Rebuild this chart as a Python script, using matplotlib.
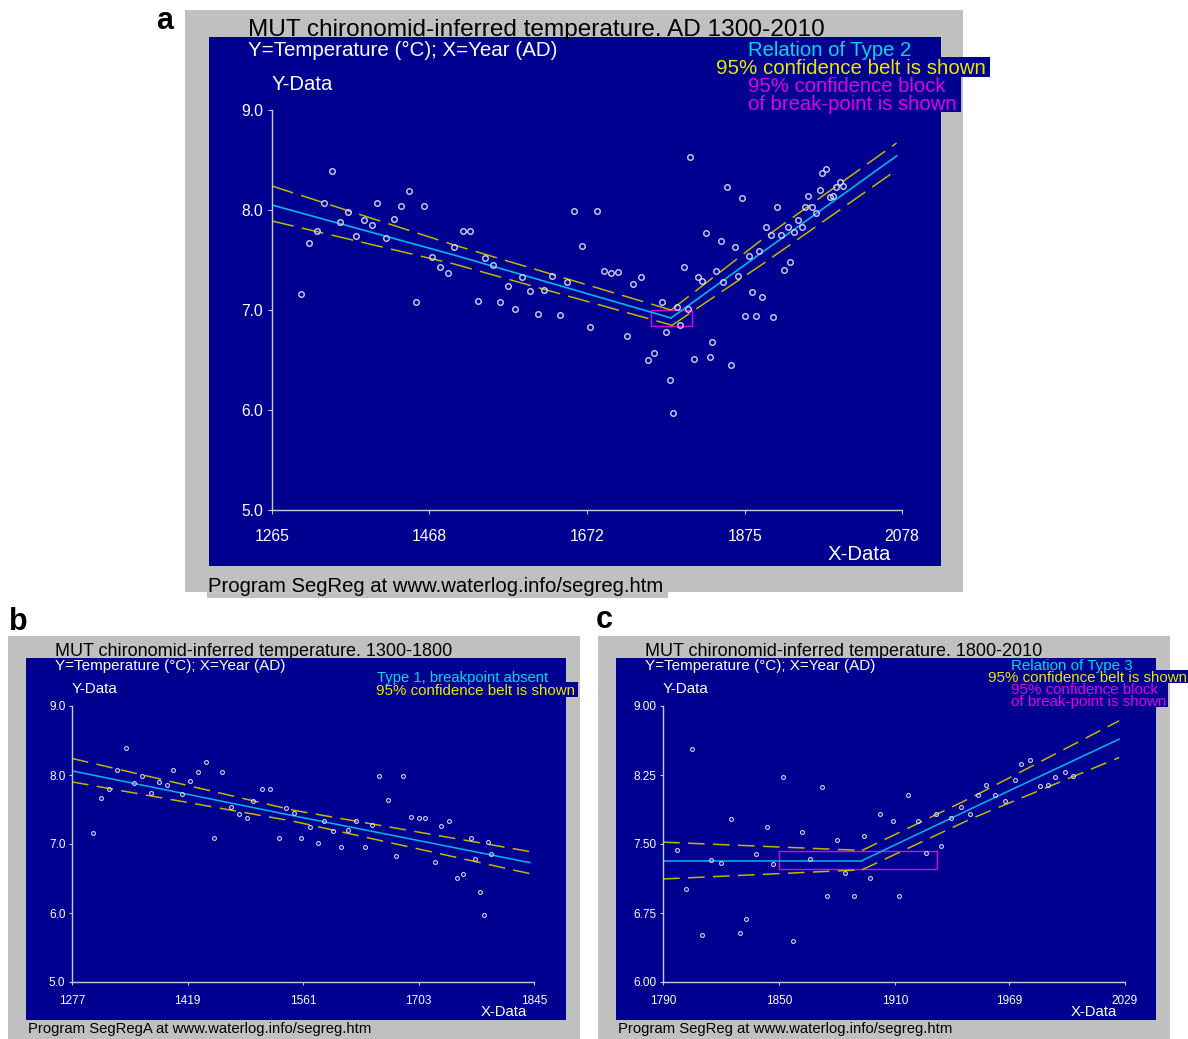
import matplotlib
matplotlib.use('Agg')
import matplotlib.pyplot as plt
from matplotlib.patches import Rectangle

plt.rcParams['font.family'] = ['Liberation Sans', 'DejaVu Sans']
plt.rcParams['lines.scale_dashes'] = False

W, H = 1188, 1039

# chironomid-inferred temperature samples (year AD, deg C)
years = [1343, 1332, 1363, 1353, 1323, 1313, 1303, 1374, 1384, 1394, 1401, 1412, 1422, 1432, 1442,
         1451, 1461, 1472, 1482, 1492, 1500, 1511, 1521,
         1531, 1540, 1550, 1559, 1569, 1579, 1587, 1598, 1608, 1616,
         1626, 1637, 1646, 1655, 1665, 1675, 1684, 1694, 1703, 1711,
         1731, 1741, 1723, 1750, 1758, 1768, 1773, 1778, 1783, 1788,
         1792, 1797, 1802, 1805, 1810, 1815, 1820, 1825, 1830, 1833,
         1838, 1844, 1847, 1852, 1857, 1862, 1866, 1872, 1875, 1880,
         1884, 1889, 1894, 1897, 1902, 1909, 1912, 1917, 1922, 1926,
         1931, 1934, 1939, 1944, 1949, 1953, 1957, 1962, 1967, 1972,
         1975, 1980, 1985, 1989, 1993, 1998, 2002]
temps = [8.39, 8.07, 7.98, 7.88, 7.79, 7.67, 7.16, 7.74, 7.90, 7.85, 8.07, 7.72, 7.91, 8.04, 8.19,
         7.08, 8.04, 7.53, 7.43, 7.37, 7.63, 7.79, 7.79,
         7.09, 7.52, 7.45, 7.08, 7.24, 7.01, 7.33, 7.19, 6.96, 7.20,
         7.34, 6.95, 7.28, 7.99, 7.64, 6.83, 7.99, 7.39, 7.37, 7.38,
         7.26, 7.33, 6.74, 6.50, 6.57, 7.08, 6.78, 6.30, 5.97, 7.03,
         6.85, 7.43, 7.01, 8.53, 6.51, 7.33, 7.29, 7.77, 6.53, 6.68,
         7.39, 7.69, 7.28, 8.23, 6.45, 7.63, 7.34, 8.12, 6.94, 7.54,
         7.18, 6.94, 7.59, 7.13, 7.83, 7.75, 6.93, 8.03, 7.75, 7.40,
         7.83, 7.48, 7.78, 7.90, 7.83, 8.03, 8.14, 8.03, 7.97, 8.20,
         8.37, 8.41, 8.13, 8.14, 8.23, 8.28, 8.24]

# panel a: type 2 (two sloping segments)
a_seg1_x = [1265, 1500, 1780]
a_seg1_fit = [8.05, 7.55, 6.92]
a_seg1_up = [8.24, 7.65, 7.00]
a_seg1_lo = [7.89, 7.46, 6.85]
a_seg2_x = [1780, 1900, 2071]
a_seg2_fit = [6.92, 7.59, 8.54]
a_seg2_up = [7.00, 7.72, 8.67]
a_seg2_lo = [6.84, 7.47, 8.40]
a_block = [1754, 1807, 6.84, 7.00]
a_xticks = [1265, 1468, 1672, 1875, 2078]
a_yticks = [5.0, 6.0, 7.0, 8.0, 9.0]

# panel b: type 1 (no breakpoint), 1300-1800
b_x = [1277, 1549, 1840]
b_fit = [8.06, 7.41, 6.73]
b_up = [8.24, 7.49, 6.89]
b_lo = [7.90, 7.33, 6.57]
b_xticks = [1277, 1419, 1561, 1703, 1845]
b_yticks = [5.0, 6.0, 7.0, 8.0, 9.0]

# panel c: type 3 (flat then rising), 1800-2010
c_seg1_x = [1790, 1893]
c_seg1_fit = [7.32, 7.32]
c_seg1_up = [7.52, 7.43]
c_seg1_lo = [7.12, 7.22]
c_seg2_x = [1893, 1950, 2026]
c_seg2_fit = [7.32, 7.89, 8.64]
c_seg2_up = [7.43, 8.01, 8.84]
c_seg2_lo = [7.22, 7.78, 8.44]
c_block = [1850, 1932, 7.23, 7.42]
c_xticks = [1790, 1850, 1910, 1969, 2029]
c_yticks = [6.00, 6.75, 7.50, 8.25, 9.00]

GREY = '#c0c0c0'
NAVY = '#000090'
CYAN_LINE = '#00b8f0'
CYAN_TXT = '#00d8e8'
YEL_TXT = '#e8e800'
YEL_BELT = '#c0b800'
MAG = '#e000e0'
AXC = '#c8c8d8'

fig = plt.figure(figsize=(W / 100, H / 100), dpi=100)
fig.patch.set_facecolor('white')


def rect(x0, y0, x1, y1, color, z=0):
    fig.add_artist(Rectangle((x0 / W, 1 - y1 / H), (x1 - x0) / W, (y1 - y0) / H,
                             transform=fig.transFigure, facecolor=color,
                             edgecolor='none', zorder=z))


def txt(x, y, s, size, color='white', **kw):
    # y is the visual centre in pixels; nudge for descender space
    fig.text(x / W, 1 - (y + 2) / H, s, fontsize=size, color=color,
             ha='left', va='center', zorder=5, **kw)


def make_axes(x0, y0, x1, y1, xlim, ylim, xticks, yticks, fmt, lsize, xpad, ypad, tl):
    ax = fig.add_axes([x0 / W, 1 - y1 / H, (x1 - x0) / W, (y1 - y0) / H])
    ax.set_facecolor('none')
    ax.set_zorder(3)
    ax.set_xlim(xlim)
    ax.set_ylim(ylim)
    for s in ['top', 'right']:
        ax.spines[s].set_visible(False)
    for s in ['left', 'bottom']:
        ax.spines[s].set_color(AXC)
        ax.spines[s].set_linewidth(1)
    ax.set_xticks(xticks)
    ax.set_xticklabels([str(t) for t in xticks])
    ax.set_yticks(yticks)
    ax.set_yticklabels([fmt % t for t in yticks])
    ax.tick_params(axis='x', colors=AXC, labelcolor='white', labelsize=lsize,
                   length=tl, pad=xpad, direction='out')
    ax.tick_params(axis='y', colors=AXC, labelcolor='white', labelsize=lsize,
                   length=tl, pad=ypad, direction='out')
    return ax


def belt(ax, x, up, lo, dash):
    ax.plot(x, up, color=YEL_BELT, lw=1.1, dashes=dash)
    ax.plot(x, lo, color=YEL_BELT, lw=1.1, dashes=dash)


# ---------------- panel a ----------------
rect(185, 10, 963, 592, GREY)
rect(207, 574, 668, 598, GREY)
rect(209, 37, 941, 566, NAVY, 1)
rect(714, 57, 990, 77, NAVY, 1)
rect(745, 76, 961, 112, NAVY, 1)
fig.text(165 / W, 1 - 21 / H, 'a', fontsize=22, fontweight='bold', ha='center', va='center')
txt(248, 28, 'MUT chironomid-inferred temperature. AD 1300-2010', 17.6, 'black')
txt(248, 48, 'Y=Temperature (°C); X=Year (AD)', 14.8)
txt(272, 83, 'Y-Data', 14.6)
txt(748, 48, 'Relation of Type 2', 14.6, CYAN_TXT)
txt(716, 67, '95% confidence belt is shown', 14.8, YEL_TXT)
txt(748, 84, '95% confidence block', 14.6, MAG)
txt(748, 102, 'of break-point is shown', 14.6, MAG)
txt(828, 553, 'X-Data', 14.7)
txt(208, 585, 'Program SegReg at www.waterlog.info/segreg.htm', 14.6, 'black')

ax = make_axes(272, 110, 902, 510, (1265, 2078), (5, 9), a_xticks, a_yticks,
               '%.1f', 11.3, 11, 3.6, 3)
belt(ax, a_seg1_x, a_seg1_up, a_seg1_lo, (16, 6))
belt(ax, a_seg2_x, a_seg2_up, a_seg2_lo, (16, 6))
ax.plot(a_seg1_x, a_seg1_fit, color=CYAN_LINE, lw=1.2)
ax.plot(a_seg2_x, a_seg2_fit, color=CYAN_LINE, lw=1.2)
ax.add_patch(Rectangle((a_block[0], a_block[2]), a_block[1] - a_block[0],
                       a_block[3] - a_block[2], fill=False, edgecolor=MAG, lw=1))
ax.plot(years, temps, 'o', ms=4, mfc='none', mec='#d0d0ff', mew=1.0)

# ---------------- panel b ----------------
rect(8, 636, 580, 1039, GREY)
rect(26, 658, 566, 1020, NAVY, 1)
rect(375, 682, 578, 697, NAVY, 1)
fig.text(18 / W, 1 - 622 / H, 'b', fontsize=22, fontweight='bold', ha='center', va='center')
txt(55, 650, 'MUT chironomid-inferred temperature. 1300-1800', 13, 'black')
txt(55, 664, 'Y=Temperature (°C); X=Year (AD)', 11)
txt(72, 687, 'Y-Data', 10.9)
txt(377, 676, 'Type 1, breakpoint absent', 10.7, CYAN_TXT)
txt(376, 689, '95% confidence belt is shown', 10.9, YEL_TXT)
txt(481, 1010, 'X-Data', 10.7)
txt(28, 1027, 'Program SegRegA at www.waterlog.info/segreg.htm', 10.7, 'black')

bx = [y for y in years if y < 1795]
bt = [t for y, t in zip(years, temps) if y < 1795]
ax = make_axes(72, 706, 534, 982, (1277, 1845), (5, 9), b_xticks, b_yticks,
               '%.1f', 8.5, 6.5, 2.2, 2.5)
belt(ax, b_x, b_up, b_lo, (12, 6))
ax.plot(b_x, b_fit, color=CYAN_LINE, lw=1.1)
ax.plot(bx, bt, 'o', ms=2.8, mfc='none', mec='#d0d0ff', mew=0.8)

# ---------------- panel c ----------------
rect(598, 636, 1170, 1039, GREY)
rect(616, 658, 1156, 1020, NAVY, 1)
rect(986, 670, 1188, 683, NAVY, 1)
rect(1009, 681, 1168, 707, NAVY, 1)
fig.text(604 / W, 1 - 620 / H, 'c', fontsize=22, fontweight='bold', ha='center', va='center')
txt(645, 650, 'MUT chironomid-inferred temperature. 1800-2010', 13, 'black')
txt(645, 664, 'Y=Temperature (°C); X=Year (AD)', 11)
txt(663, 687, 'Y-Data', 10.9)
txt(1011, 664, 'Relation of Type 3', 10.9, CYAN_TXT)
txt(988, 676, '95% confidence belt is shown', 10.9, YEL_TXT)
txt(1011, 688, '95% confidence block', 10.9, MAG)
txt(1011, 700, 'of break-point is shown', 10.9, MAG)
txt(1071, 1010, 'X-Data', 10.7)
txt(618, 1027, 'Program SegReg at www.waterlog.info/segreg.htm', 10.7, 'black')

cx = [y for y in years if y >= 1795]
ct = [t for y, t in zip(years, temps) if y >= 1795]
ax = make_axes(663, 706, 1125, 982, (1790, 2029), (6, 9), c_xticks, c_yticks,
               '%.2f', 8.5, 6.5, 2.2, 2.5)
belt(ax, c_seg1_x, c_seg1_up, c_seg1_lo, (12, 6))
belt(ax, c_seg2_x, c_seg2_up, c_seg2_lo, (12, 6))
ax.plot(c_seg1_x, c_seg1_fit, color=CYAN_LINE, lw=1.1)
ax.plot(c_seg2_x, c_seg2_fit, color=CYAN_LINE, lw=1.1)
ax.add_patch(Rectangle((c_block[0], c_block[2]), c_block[1] - c_block[0],
                       c_block[3] - c_block[2], fill=False, edgecolor=MAG, lw=1))
ax.plot(cx, ct, 'o', ms=2.8, mfc='none', mec='#d0d0ff', mew=0.8)

fig.savefig('out.png', dpi=100)
